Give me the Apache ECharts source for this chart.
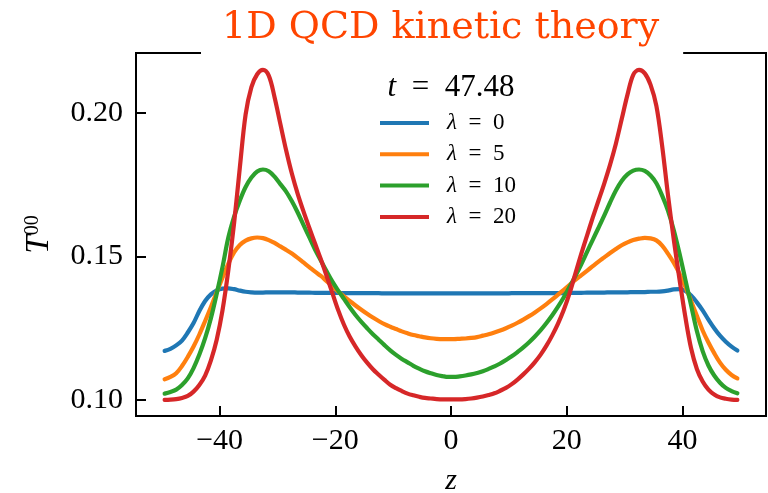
<!DOCTYPE html>
<html>
<head>
<meta charset="utf-8">
<title>1D QCD kinetic theory</title>
<script src="https://cdn.jsdelivr.net/npm/echarts@6/dist/echarts.min.js"></script>
<style>
  html, body { margin: 0; padding: 0; background: #fff; }
  #chart { width: 768px; height: 493px; }
</style>
</head>
<body>
<div id="chart"></div>
<script>
// Cell-centred positions along z
const zValues = [
  -49.5, -48.5, -47.5, -46.5, -45.5, -44.5, -43.5, -42.5, -41.5, -40.5,
  -39.5, -38.5, -37.5, -36.5, -35.5, -34.5, -33.5, -32.5, -31.5, -30.5,
  -29.5, -28.5, -27.5, -26.5, -25.5, -24.5, -23.5, -22.5, -21.5, -20.5,
  -19.5, -18.5, -17.5, -16.5, -15.5, -14.5, -13.5, -12.5, -11.5, -10.5,
  -9.5, -8.5, -7.5, -6.5, -5.5, -4.5, -3.5, -2.5, -1.5, -0.5,
  0.5, 1.5, 2.5, 3.5, 4.5, 5.5, 6.5, 7.5, 8.5, 9.5,
  10.5, 11.5, 12.5, 13.5, 14.5, 15.5, 16.5, 17.5, 18.5, 19.5,
  20.5, 21.5, 22.5, 23.5, 24.5, 25.5, 26.5, 27.5, 28.5, 29.5,
  30.5, 31.5, 32.5, 33.5, 34.5, 35.5, 36.5, 37.5, 38.5, 39.5,
  40.5, 41.5, 42.5, 43.5, 44.5, 45.5, 46.5, 47.5, 48.5, 49.5
];

// Energy density T^00 at t = 47.48 for each coupling
const t00Lambda0 = [
  0.1171, 0.1178, 0.1190, 0.1207, 0.1235, 0.1268, 0.1310, 0.1345, 0.1368, 0.1382,
  0.1388, 0.1389, 0.1386, 0.1381, 0.1377, 0.1375, 0.1374, 0.1374, 0.1375, 0.1375,
  0.1375, 0.1375, 0.1375, 0.1374, 0.1374, 0.1374, 0.1373, 0.1373, 0.1373, 0.1373,
  0.1373, 0.1372, 0.1372, 0.1372, 0.1372, 0.1372, 0.1372, 0.1372, 0.1371, 0.1371,
  0.1371, 0.1371, 0.1371, 0.1371, 0.1371, 0.1371, 0.1371, 0.1371, 0.1371, 0.1371,
  0.1371, 0.1371, 0.1371, 0.1371, 0.1371, 0.1371, 0.1371, 0.1371, 0.1371, 0.1371,
  0.1372, 0.1372, 0.1372, 0.1372, 0.1372, 0.1372, 0.1372, 0.1372, 0.1372, 0.1372,
  0.1373, 0.1373, 0.1373, 0.1374, 0.1374, 0.1374, 0.1374, 0.1375, 0.1375, 0.1375,
  0.1375, 0.1376, 0.1376, 0.1376, 0.1377, 0.1377, 0.1378, 0.1381, 0.1385, 0.1386,
  0.1380, 0.1364, 0.1340, 0.1312, 0.1280, 0.1250, 0.1224, 0.1203, 0.1186, 0.1172
];

const t00Lambda5 = [
  0.1072, 0.1080, 0.1093, 0.1118, 0.1150, 0.1186, 0.1228, 0.1275, 0.1324, 0.1375,
  0.1426, 0.1474, 0.1514, 0.1540, 0.1555, 0.1563, 0.1566, 0.1564, 0.1557, 0.1547,
  0.1535, 0.1523, 0.1510, 0.1495, 0.1479, 0.1463, 0.1447, 0.1432, 0.1414, 0.1396,
  0.1378, 0.1361, 0.1345, 0.1329, 0.1314, 0.1300, 0.1287, 0.1275, 0.1264, 0.1255,
  0.1247, 0.1239, 0.1232, 0.1226, 0.1222, 0.1218, 0.1215, 0.1213, 0.1212, 0.1212,
  0.1212, 0.1213, 0.1214, 0.1216, 0.1219, 0.1224, 0.1229, 0.1235, 0.1242, 0.1250,
  0.1259, 0.1269, 0.1280, 0.1292, 0.1305, 0.1319, 0.1334, 0.1350, 0.1367, 0.1384,
  0.1401, 0.1418, 0.1434, 0.1450, 0.1466, 0.1482, 0.1497, 0.1512, 0.1526, 0.1539,
  0.1549, 0.1557, 0.1562, 0.1565, 0.1563, 0.1556, 0.1538, 0.1510, 0.1478, 0.1440,
  0.1395, 0.1345, 0.1293, 0.1242, 0.1200, 0.1163, 0.1130, 0.1105, 0.1087, 0.1075
];

const t00Lambda10 = [
  0.1022, 0.1028, 0.1036, 0.1052, 0.1075, 0.1111, 0.1158, 0.1215, 0.1285, 0.1370,
  0.1463, 0.1565, 0.1638, 0.1695, 0.1742, 0.1775, 0.1796, 0.1803, 0.1797, 0.1778,
  0.1752, 0.1726, 0.1692, 0.1653, 0.1610, 0.1567, 0.1524, 0.1486, 0.1448, 0.1412,
  0.1381, 0.1352, 0.1323, 0.1296, 0.1272, 0.1250, 0.1229, 0.1210, 0.1191, 0.1173,
  0.1157, 0.1143, 0.1131, 0.1119, 0.1109, 0.1100, 0.1093, 0.1087, 0.1083, 0.1080,
  0.1080, 0.1082, 0.1085, 0.1089, 0.1094, 0.1100, 0.1108, 0.1117, 0.1127, 0.1139,
  0.1152, 0.1167, 0.1183, 0.1201, 0.1221, 0.1243, 0.1268, 0.1295, 0.1325, 0.1358,
  0.1394, 0.1432, 0.1472, 0.1515, 0.1558, 0.1600, 0.1643, 0.1688, 0.1730, 0.1763,
  0.1786, 0.1799, 0.1803, 0.1798, 0.1782, 0.1755, 0.1712, 0.1660, 0.1592, 0.1510,
  0.1420, 0.1330, 0.1240, 0.1170, 0.1120, 0.1085, 0.1060, 0.1042, 0.1031, 0.1023
];

const t00Lambda20 = [
  0.1000, 0.1001, 0.1003, 0.1007, 0.1014, 0.1029, 0.1052, 0.1085, 0.1138, 0.1210,
  0.1312, 0.1450, 0.1615, 0.1810, 0.1995, 0.2090, 0.2135, 0.2150, 0.2130, 0.2055,
  0.1962, 0.1870, 0.1788, 0.1718, 0.1657, 0.1600, 0.1545, 0.1490, 0.1432, 0.1372,
  0.1313, 0.1262, 0.1220, 0.1186, 0.1156, 0.1130, 0.1107, 0.1088, 0.1070, 0.1053,
  0.1041, 0.1031, 0.1022, 0.1016, 0.1011, 0.1007, 0.1005, 0.1003, 0.1002, 0.1002,
  0.1002, 0.1002, 0.1003, 0.1005, 0.1008, 0.1012, 0.1017, 0.1023, 0.1032, 0.1042,
  0.1055, 0.1071, 0.1089, 0.1109, 0.1132, 0.1158, 0.1189, 0.1225, 0.1266, 0.1314,
  0.1372, 0.1440, 0.1508, 0.1572, 0.1635, 0.1695, 0.1755, 0.1820, 0.1893, 0.1978,
  0.2063, 0.2133, 0.2150, 0.2138, 0.2098, 0.2025, 0.1885, 0.1715, 0.1560, 0.1420,
  0.1290, 0.1180, 0.1108, 0.1064, 0.1036, 0.1019, 0.1009, 0.1004, 0.1001, 0.1000
];

const lambdaValues = [0, 5, 10, 20];
const seriesValues = [t00Lambda0, t00Lambda5, t00Lambda10, t00Lambda20];
const lineColors = ['#1f77b4', '#ff7f0e', '#2ca02c', '#d62728'];

const xTicks = [-40, -20, 0, 20, 40];
const yTicks = [0.10, 0.15, 0.20];
const timeLabel = '47.48';

const SERIF = "'Liberation Serif', 'DejaVu Serif', serif";
const chart = echarts.init(document.getElementById('chart'), null, { renderer: 'canvas' });

const series = lambdaValues.map((lam, k) => ({
  name: String(lam),
  type: 'line',
  data: zValues.map((z, i) => [z, seriesValues[k][i]]),
  showSymbol: false,
  symbol: 'none',
  smooth: 0.35,
  clip: true,
  lineStyle: { width: 4.2, color: lineColors[k], join: 'round', cap: 'round' },
  itemStyle: { color: lineColors[k] },
  emphasis: { disabled: true }
}));

const option = {
  animation: false,
  backgroundColor: '#fff',
  title: {
    text: '1D QCD kinetic theory',
    left: 201,
    top: 6,
    padding: [0, 24, 6, 21],
    backgroundColor: '#fff',
    z: 10,
    textStyle: {
      fontFamily: "'DejaVu Serif', serif",
      fontWeight: 'normal',
      fontSize: 38,
      lineHeight: 44,
      color: '#ff4500'
    }
  },
  grid: {
    left: 136, right: 2, top: 53, bottom: 77,
    outerBoundsMode: 'none',
    containLabel: false,
    show: true,
    borderColor: '#000',
    borderWidth: 2,
    backgroundColor: 'transparent'
  },
  legend: {
    data: lambdaValues.map(String),
    orient: 'vertical',
    left: 380,
    top: 111,
    padding: 0,
    itemWidth: 49,
    itemHeight: 4,
    itemGap: 7.3,
    icon: 'rect',
    selectedMode: false,
    formatter: (name) => '{i|λ}{r|\u2002=\u2002' + name + '}',
    textStyle: {
      fontFamily: SERIF,
      fontSize: 23,
      lineHeight: 24,
      color: '#000',
      padding: [0, 0, 0, 13],
      rich: {
        i: { fontFamily: SERIF, fontSize: 23, fontStyle: 'italic', color: '#000' },
        r: { fontFamily: SERIF, fontSize: 23, color: '#000' }
      }
    }
  },
  graphic: [{
    type: 'text',
    x: 451,
    y: 88,
    z: 10,
    style: {
      text: '{i|t}{r|\u2002=\u2002' + timeLabel + '}',
      align: 'center',
      verticalAlign: 'middle',
      fill: '#000',
      fontFamily: SERIF,
      fontSize: 31,
      rich: {
        i: { fontFamily: SERIF, fontSize: 31, fontStyle: 'italic', fill: '#000' },
        r: { fontFamily: SERIF, fontSize: 31, fill: '#000' }
      }
    }
  }],
  xAxis: {
    type: 'value',
    min: -54.45,
    max: 54.45,
    name: 'z',
    nameLocation: 'middle',
    nameGap: 50,
    nameTextStyle: { fontFamily: SERIF, fontSize: 30, fontStyle: 'italic', color: '#000' },
    axisLine: { show: false, onZero: false },
    splitLine: { show: false },
    axisTick: {
      show: true, inside: true, length: 10,
      customValues: xTicks,
      lineStyle: { color: '#000', width: 2 }
    },
    axisLabel: {
      customValues: xTicks,
      margin: 10,
      fontFamily: SERIF,
      fontSize: 30,
      color: '#000',
      formatter: (v) => (v < 0 ? '\u2212' + Math.abs(v) : String(v))
    }
  },
  yAxis: {
    type: 'value',
    min: 0.0944,
    max: 0.2209,
    name: '{i|T}{s|00}',
    nameLocation: 'middle',
    nameRotate: 90,
    nameGap: 80,
    nameTextStyle: {
      color: '#000',
      rich: {
        i: { fontFamily: SERIF, fontSize: 33, fontStyle: 'italic', color: '#000' },
        s: { fontFamily: SERIF, fontSize: 20, color: '#000', verticalAlign: 'top' }
      }
    },
    axisLine: { show: false, onZero: false },
    splitLine: { show: false },
    axisTick: {
      show: true, inside: true, length: 10,
      customValues: yTicks,
      lineStyle: { color: '#000', width: 2 }
    },
    axisLabel: {
      customValues: yTicks,
      margin: 13,
      fontFamily: SERIF,
      fontSize: 30,
      color: '#000',
      formatter: (v) => v.toFixed(2)
    }
  },
  series: series
};

chart.setOption(option);
</script>
</body>
</html>
